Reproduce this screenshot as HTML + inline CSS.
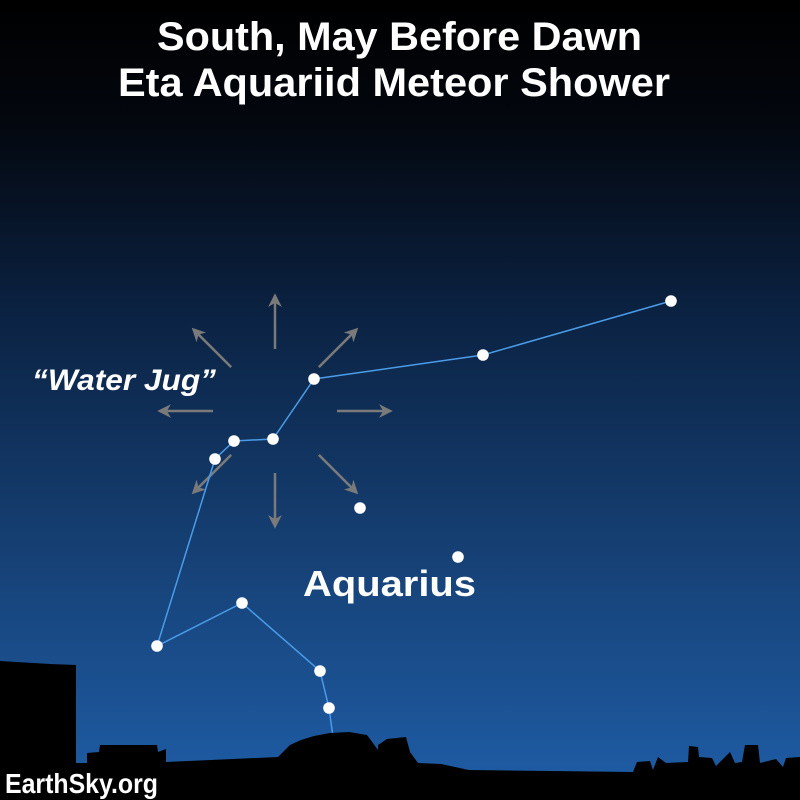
<!DOCTYPE html>
<html><head><meta charset="utf-8"><style>html,body{margin:0;padding:0;background:#000}svg{display:block}</style></head>
<body>
<svg width="800" height="800" viewBox="0 0 800 800" xmlns="http://www.w3.org/2000/svg">
<defs>
<linearGradient id="sky" x1="0" y1="0" x2="0" y2="1">
<stop offset="0" stop-color="#000000"/>
<stop offset="0.15" stop-color="#03070e"/>
<stop offset="0.4" stop-color="#0b2344"/>
<stop offset="0.7" stop-color="#164176"/>
<stop offset="1" stop-color="#1f5ea8"/>
</linearGradient>
<marker id="ah" viewBox="0 0 10 10" refX="8" refY="5" markerWidth="5.5" markerHeight="5.5" orient="auto"><path d="M0,0 L10,5 L0,10 L3,5 z" fill="#7a7a7a"/></marker>
</defs>
<rect width="800" height="800" fill="url(#sky)"/>
<g font-family="Liberation Sans, sans-serif" font-weight="bold" fill="#fff">
<text x="157" y="50" font-size="40" textLength="485" lengthAdjust="spacingAndGlyphs">South, May Before Dawn</text>
<text x="118" y="96" font-size="40" textLength="552" lengthAdjust="spacingAndGlyphs">Eta Aquariid Meteor Shower</text>
</g>
<g id="arrows" stroke="#7a7a7a" stroke-width="2.5" marker-end="url(#ah)"></g>
<polyline id="lines" fill="none" stroke="#4a9ce8" stroke-width="1.5"/>
<g id="stars" fill="#fff"></g>
<text x="32" y="390" font-family="Liberation Sans, sans-serif" font-weight="bold" font-style="italic" font-size="30" fill="#fff" textLength="184" lengthAdjust="spacingAndGlyphs">“Water Jug”</text>
<text x="303" y="596" font-family="Liberation Sans, sans-serif" font-weight="bold" font-size="36" fill="#fff" textLength="173" lengthAdjust="spacingAndGlyphs">Aquarius</text>
<path d="M0,661 L50,664 L76,665 L76,763 L87,763 L87,753 L99,752 L100,745 L157,745 L158,752 L166,749 L166,762 L278,757 L290,745 L301,740 L314,736 L330,733 L349,732 L367,735 L378,750 L378,745 L387,739 L406,737 L410,752 L418,763 L441,764 L469,770 L633,772 L637,762 L650,761 L653,770 L658,757 L666,763 L688,762 L689,746 L698,747 L699,757 L712,758 L716,766 L730,752 L735,763 L742,762 L745,745 L758,745 L760,763 L776,759 L783,767 L786,758 L800,757 L800,800 L0,800 Z" fill="#000"/>
<text x="5" y="793" font-family="Liberation Sans, sans-serif" font-weight="bold" font-size="28" fill="#fff" textLength="153" lengthAdjust="spacingAndGlyphs">EarthSky.org</text>
</svg>
<script>
const starX=[671,483,314,273,234,215,157,242,320,329,360,458];
const starY=[301,355,379,439,441,459,646,603,671,708,508,557];
const lineOrder=[0,1,2,3,4,5,6,7,8,9];
const arrowAngles=[270,225,315,180,0,135,90,45];
const ns='http://www.w3.org/2000/svg';
const sg=document.getElementById('stars');
starX.forEach((x,i)=>{const c=document.createElementNS(ns,'circle');c.setAttribute('cx',x);c.setAttribute('cy',starY[i]);c.setAttribute('r',5.8);


sg.appendChild(c);});
const pts=lineOrder.map(i=>starX[i]+','+starY[i]);pts.push('333,737');
document.getElementById('lines').setAttribute('points',pts.join(' '));
const ag=document.getElementById('arrows');const cx=275,cy=411;
arrowAngles.forEach(a=>{const r=a*Math.PI/180;const r0=62,r1=115;
const l=document.createElementNS(ns,'line');
l.setAttribute('x1',cx+Math.cos(r)*r0);l.setAttribute('y1',cy+Math.sin(r)*r0);
l.setAttribute('x2',cx+Math.cos(r)*r1);l.setAttribute('y2',cy+Math.sin(r)*r1);


ag.appendChild(l);});
</script>
</body></html>
